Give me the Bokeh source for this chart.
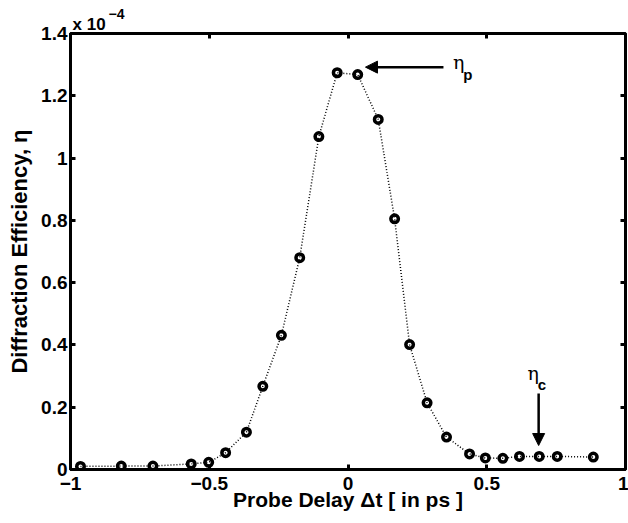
from bokeh.plotting import figure
from bokeh.models import (Range1d, LinearAxis, FixedTicker, Label, Arrow, NormalHead,
                          Title, CustomJSTickFormatter)
from bokeh.embed import file_html
from bokeh.resources import INLINE

# data (efficiency in units of 1e-4)
delay = [-0.964, -0.817, -0.703, -0.565, -0.502, -0.441, -0.366, -0.307, -0.240,
         -0.174, -0.105, -0.039, 0.035, 0.109, 0.168, 0.222, 0.285, 0.355,
         0.438, 0.495, 0.558, 0.618, 0.689, 0.754, 0.884]
eff = [0.010, 0.011, 0.011, 0.018, 0.023, 0.054, 0.120, 0.267, 0.431,
       0.680, 1.069, 1.274, 1.268, 1.124, 0.805, 0.401, 0.214, 0.104,
       0.050, 0.037, 0.036, 0.042, 0.042, 0.042, 0.040]

x_ticks = [-1, -0.5, 0, 0.5, 1]
x_tick_labels = ["\u22121", "\u22120.5", "0", "0.5", "1"]
y_ticks = [0, 0.2, 0.4, 0.6, 0.8, 1.0, 1.2, 1.4]
y_tick_labels = ["0", "0.2", "0.4", "0.6", "0.8", "1", "1.2", "1.4"]

FONT = "Liberation Sans"

p = figure(width=628, height=523, output_backend="svg", toolbar_location=None,
           x_range=Range1d(-1, 1), y_range=Range1d(0, 1.4), title=None)
p.min_border_left = 70
p.min_border_right = 3
p.min_border_top = 33
p.min_border_bottom = 54
p.grid.visible = False
p.background_fill_color = "white"
p.border_fill_color = "white"
p.outline_line_color = "black"
p.outline_line_width = 3

p.line(delay, eff, line_color="black", line_width=1.5, line_dash="1 2")
p.scatter(delay, eff, marker="circle", size=7.5, fill_color=None,
          line_color="black", line_width=3.5)

xa = p.xaxis[0]
xa.ticker = FixedTicker(ticks=x_ticks)
xa.major_label_overrides = {t: l for t, l in zip(x_ticks, x_tick_labels)}
ya = p.yaxis[0]
ya.ticker = FixedTicker(ticks=y_ticks)
ya.major_label_overrides = {t: l for t, l in zip(y_ticks, y_tick_labels)}

for ax in (xa, ya):
    ax.axis_line_width = 3
    ax.axis_line_color = "black"
    ax.major_tick_in = 5
    ax.major_tick_out = 0
    ax.major_tick_line_width = 3
    ax.minor_tick_line_color = None
    ax.major_label_text_font = FONT
    ax.major_label_text_font_style = "bold"
    ax.major_label_text_font_size = "19px"
    ax.major_label_text_color = "black"
    ax.axis_label_text_font = FONT
    ax.axis_label_text_font_style = "bold"
    ax.axis_label_text_color = "black"

xa.axis_label = "Probe Delay \u0394t [ in ps ]"
xa.axis_label_text_font_size = "21px"
xa.major_label_standoff = 7
xa.axis_label_standoff = -5
ya.axis_label = "Diffraction Efficiency, \u03b7"
ya.axis_label_text_font_size = "22px"
ya.major_label_standoff = 3
ya.axis_label_standoff = 6

ra = LinearAxis(ticker=FixedTicker(ticks=y_ticks))
ta = LinearAxis(ticker=FixedTicker(ticks=x_ticks))
for ax in (ra, ta):
    ax.axis_line_color = None
    ax.major_tick_in = 5
    ax.major_tick_out = 0
    ax.major_tick_line_width = 3
    ax.minor_tick_line_color = None
    ax.formatter = CustomJSTickFormatter(code="return ''")
    ax.major_label_text_font_size = "1px"
    ax.major_label_standoff = 0
p.add_layout(ra, "right")
p.add_layout(ta, "above")

# exponent as titles above the frame
p.add_layout(Title(text="x 10", text_font=FONT, text_font_style="bold",
                   text_font_size="17px", offset=2, standoff=0, align="left",
                   text_color="black"), "above")
p.add_layout(Title(text="\u22124", text_font=FONT, text_font_style="bold",
                   text_font_size="14px", offset=38, standoff=-13, align="left",
                   text_color="black"), "above")

# annotations
p.add_layout(Arrow(x_start=0.344, y_start=1.292, x_end=0.063, y_end=1.292,
                   line_width=2.5, line_color="black",
                   end=NormalHead(size=12, fill_color="black", line_color="black")))
p.add_layout(Label(x=0.378, y=1.31, text="\u03b7", text_font="DejaVu Serif",
                   text_font_size="19px", text_baseline="middle", text_color="black"))
p.add_layout(Label(x=0.415, y=1.268, text="p", text_font=FONT, text_font_style="bold",
                   text_font_size="15px", text_baseline="middle", text_color="black"))

p.add_layout(Arrow(x_start=0.687, y_start=0.244, x_end=0.687, y_end=0.077,
                   line_width=2.5, line_color="black",
                   end=NormalHead(size=12, fill_color="black", line_color="black")))
p.add_layout(Label(x=0.647, y=0.311, text="\u03b7", text_font="DejaVu Serif",
                   text_font_size="19px", text_baseline="middle", text_color="black"))
p.add_layout(Label(x=0.684, y=0.272, text="c", text_font=FONT, text_font_style="bold",
                   text_font_size="15px", text_baseline="middle", text_color="black"))

open("out.html", "w").write(file_html(p, INLINE))
